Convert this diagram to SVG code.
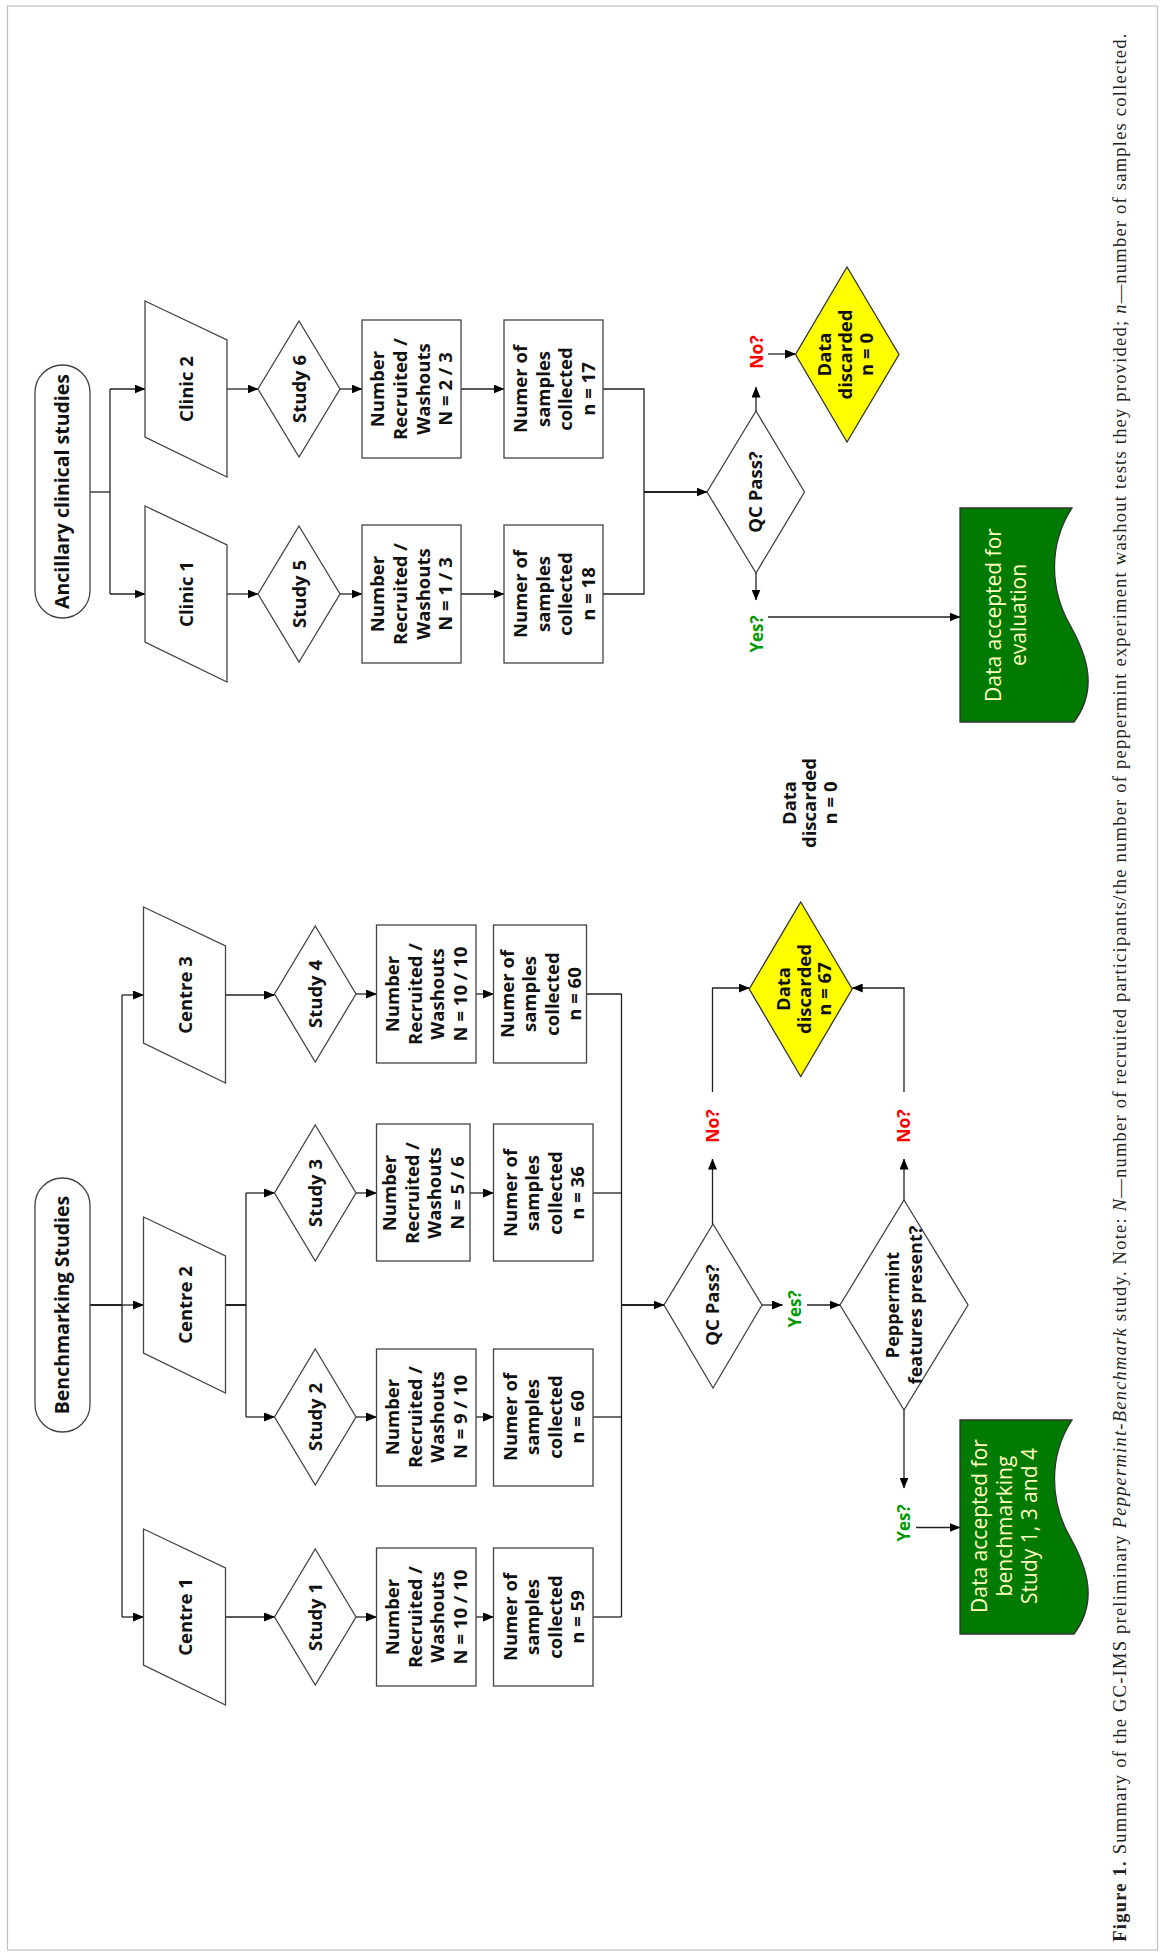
<svg xmlns="http://www.w3.org/2000/svg" width="1163" height="1957" viewBox="0 0 1163 1957">
<style>
.sh{fill:#fff;stroke:#444;stroke-width:1.3}
.yl{fill:#ffff00;stroke:#333;stroke-width:1.3}
.gr{fill:#007a00;stroke:#333;stroke-width:1.3}
.t{font-family:"Open Sans","Liberation Sans",sans-serif;font-weight:700;font-size:18.5px;fill:#111;text-anchor:middle}
.tt{font-size:19.5px}
.gt{font-family:"Open Sans","Liberation Sans",sans-serif;font-weight:400;font-size:21px;fill:#ffffc0;text-anchor:middle}
.no{font-family:"Open Sans","Liberation Sans",sans-serif;font-weight:700;font-size:17.5px;fill:#ff0000;text-anchor:middle}
.yes{font-family:"Open Sans","Liberation Sans",sans-serif;font-weight:700;font-size:17px;fill:#009900;text-anchor:middle}
.cap{font-family:"Liberation Serif","Times New Roman",serif;font-size:18.5px;fill:#222}
#connectors path{fill:none;stroke:#222;stroke-width:1.3}
#connectors path.a{marker-end:url(#ah)}
#connectors path.k{stroke-width:2}
</style>
<defs>
<marker id="ah" markerWidth="11" markerHeight="9" refX="10.5" refY="4.5" orient="auto" markerUnits="userSpaceOnUse"><path d="M0,0 L11,4.5 L0,9 z" fill="#000"/></marker>
<path id="docshape" d="M0,0 H112 C88,37 90,82 110,117 C128,149 138,182 114,214 H0 Z"/>
</defs>
<rect x="0" y="0" width="1163" height="1957" fill="#fff"/>
<rect x="7.5" y="6" width="1150" height="1944" fill="none" stroke="#c0c0c0" stroke-width="1.2"/>

<g id="connectors">
<path d="M90,492 H110"/>
<path d="M110,389 V594"/>
<path class="a" d="M110,389 H145"/>
<path class="a" d="M110,594 H145"/>
<path class="a" d="M227,389 H258"/>
<path class="a" d="M227,594 H258"/>
<path class="a" d="M340,389 H362"/>
<path class="a" d="M340,594 H362"/>
<path class="a" d="M461,389 H504"/>
<path class="a" d="M461,594 H504"/>
<path d="M603,389 H644 V594 H603"/>
<path class="a k" d="M644,492 H707"/>
<path class="a" d="M756,411 V387"/>
<path class="a" d="M756,573 V600"/>
<path class="a" d="M768,354 H795.5"/>
<path class="a" d="M768,617 H960"/>

<path class="k" d="M90,1305 H122"/>
<path d="M122,995 V1617"/>
<path class="a" d="M122,995 H143.5"/>
<path class="a" d="M122,1305 H143.5"/>
<path class="a" d="M122,1617 H143.5"/>
<path class="a" d="M225.5,995 H274.5"/>
<path class="k" d="M225.5,1305 H246"/>
<path d="M246,1193 V1417"/>
<path class="a" d="M246,1193 H274.5"/>
<path class="a" d="M246,1417 H274.5"/>
<path class="a" d="M225.5,1617 H274.5"/>
<path class="a" d="M356,994 H376.5"/>
<path class="a" d="M356,1193 H376.5"/>
<path class="a" d="M356,1417 H376.5"/>
<path class="a" d="M356,1617 H376.5"/>
<path class="a" d="M476,994 H493.5"/>
<path class="a" d="M470,1193 H493.5"/>
<path class="a" d="M476,1417 H493.5"/>
<path class="a" d="M476,1617 H493.5"/>
<path d="M586.5,994 H621.5"/>
<path d="M593,1193 H621.5"/>
<path d="M593,1417 H621.5"/>
<path d="M593,1617 H621.5"/>
<path d="M621.5,994 V1617"/>
<path class="a k" d="M621.5,1305 H664"/>
<path class="a" d="M762,1305 H782.5"/>
<path class="a" d="M807,1305 H840"/>
<path class="a" d="M712.5,1224 V1159"/>
<path class="a" d="M712.5,1092 V988 H749.2"/>
<path class="a" d="M904,1200 V1159"/>
<path class="a" d="M904,1092 V988 H852.2"/>
<path class="a" d="M904,1410 V1488"/>
<path class="a" d="M916,1527.5 H960"/>
</g>

<!-- Ancillary branch -->
<g id="anc-start">
<rect class="sh" x="35" y="365" width="55" height="253" rx="27.5" ry="27.5"/>
<text class="t tt" transform="translate(62.5,491.5) rotate(-90)" y="6.7">Ancillary clinical studies</text>
</g>
<g id="clinic2">
<polygon class="sh" points="145,301 227,340 227,477 145,437"/>
<text class="t" transform="translate(186,389) rotate(-90)" y="6.5">Clinic 2</text>
</g>
<g id="clinic1">
<polygon class="sh" points="145,506 227,545 227,682 145,642"/>
<text class="t" transform="translate(186,594) rotate(-90)" y="6.5">Clinic 1</text>
</g>
<g id="study6">
<polygon class="sh" points="299,321 340,389 299,457 258,389"/>
<text class="t" transform="translate(299,389) rotate(-90)" y="6.5">Study 6</text>
</g>
<g id="study5">
<polygon class="sh" points="299,526 340,594 299,662 258,594"/>
<text class="t" transform="translate(299,594) rotate(-90)" y="6.5">Study 5</text>
</g>
<g id="rec6">
<rect class="sh" x="362" y="320" width="99" height="138"/>
<text class="t" transform="translate(411.5,389) rotate(-90)"><tspan x="0" y="-27.5">Number</tspan><tspan x="0" y="-4.7">Recruited /</tspan><tspan x="0" y="18.1">Washouts</tspan><tspan x="0" y="40.9">N = 2 / 3</tspan></text>
</g>
<g id="rec5">
<rect class="sh" x="362" y="525" width="99" height="138"/>
<text class="t" transform="translate(411.5,594) rotate(-90)"><tspan x="0" y="-27.5">Number</tspan><tspan x="0" y="-4.7">Recruited /</tspan><tspan x="0" y="18.1">Washouts</tspan><tspan x="0" y="40.9">N = 1 / 3</tspan></text>
</g>
<g id="samp6">
<rect class="sh" x="504" y="320" width="99" height="138"/>
<text class="t" transform="translate(553.5,389) rotate(-90)"><tspan x="0" y="-26.5">Numer of</tspan><tspan x="0" y="-4">samples</tspan><tspan x="0" y="18.5">collected</tspan><tspan x="0" y="41">n = 17</tspan></text>
</g>
<g id="samp5">
<rect class="sh" x="504" y="525" width="99" height="138"/>
<text class="t" transform="translate(553.5,594) rotate(-90)"><tspan x="0" y="-26.5">Numer of</tspan><tspan x="0" y="-4">samples</tspan><tspan x="0" y="18.5">collected</tspan><tspan x="0" y="41">n = 18</tspan></text>
</g>
<g id="qc-anc">
<polygon class="sh" points="756,411 804.5,492 756,573 707,492"/>
<text class="t" transform="translate(756,492) rotate(-90)" y="6">QC Pass?</text>
</g>
<g id="disc-anc">
<polygon class="yl" points="847,267 899,354.5 847,442 795.5,354.5"/>
<text class="t" transform="translate(847,354.5) rotate(-90)"><tspan x="0" y="-16">Data</tspan><tspan x="0" y="5">discarded</tspan><tspan x="0" y="25.5">n = 0</tspan></text>
</g>
<g id="no-anc"><text class="no" transform="translate(763,352) rotate(-90)">No?</text></g>
<g id="yes-anc"><text class="yes" transform="translate(763,634) rotate(-90)">Yes?</text></g>
<g id="accept-anc">
<use href="#docshape" class="gr" transform="translate(960,508)"/>
<text class="gt" transform="translate(1001,615) rotate(-90)"><tspan x="0" y="0">Data accepted for</tspan><tspan x="0" y="25">evaluation</tspan></text>
</g>
<g id="disc-float">
<text class="t" transform="translate(816,803) rotate(-90)"><tspan x="0" y="-20">Data</tspan><tspan x="0" y="0">discarded</tspan><tspan x="0" y="21">n = 0</tspan></text>
</g>

<!-- Benchmark branch -->
<g id="bench-start">
<rect class="sh" x="35" y="1178" width="55" height="254" rx="27.5" ry="27.5"/>
<text class="t tt" transform="translate(62.5,1305) rotate(-90)" y="6.7">Benchmarking Studies</text>
</g>
<g id="centre3">
<polygon class="sh" points="143.5,907 225.5,946 225.5,1083 143.5,1043"/>
<text class="t" transform="translate(184.5,995) rotate(-90)" y="7">Centre 3</text>
</g>
<g id="centre2">
<polygon class="sh" points="143.5,1217 225.5,1256 225.5,1393 143.5,1353"/>
<text class="t" transform="translate(184.5,1305) rotate(-90)" y="7">Centre 2</text>
</g>
<g id="centre1">
<polygon class="sh" points="143.5,1529 225.5,1568 225.5,1705 143.5,1665"/>
<text class="t" transform="translate(184.5,1617) rotate(-90)" y="7">Centre 1</text>
</g>
<g id="study4">
<polygon class="sh" points="315.25,926 356,994 315.25,1062 274.5,994"/>
<text class="t" transform="translate(315.25,994) rotate(-90)" y="6.7">Study 4</text>
</g>
<g id="study3">
<polygon class="sh" points="315.25,1125 356,1193 315.25,1261 274.5,1193"/>
<text class="t" transform="translate(315.25,1193) rotate(-90)" y="6.7">Study 3</text>
</g>
<g id="study2">
<polygon class="sh" points="315.25,1349 356,1417 315.25,1485 274.5,1417"/>
<text class="t" transform="translate(315.25,1417) rotate(-90)" y="6.7">Study 2</text>
</g>
<g id="study1">
<polygon class="sh" points="315.25,1549 356,1617 315.25,1685 274.5,1617"/>
<text class="t" transform="translate(315.25,1617) rotate(-90)" y="6.7">Study 1</text>
</g>
<g id="rec4">
<rect class="sh" x="376.5" y="925" width="99.5" height="138"/>
<text class="t" transform="translate(426.25,994) rotate(-90)"><tspan x="0" y="-27.5">Number</tspan><tspan x="0" y="-4.7">Recruited /</tspan><tspan x="0" y="18.1">Washouts</tspan><tspan x="0" y="40.9">N = 10 / 10</tspan></text>
</g>
<g id="rec3">
<rect class="sh" x="376.5" y="1124" width="93.5" height="137"/>
<text class="t" transform="translate(423.25,1193) rotate(-90)"><tspan x="0" y="-27.5">Number</tspan><tspan x="0" y="-4.7">Recruited /</tspan><tspan x="0" y="18.1">Washouts</tspan><tspan x="0" y="40.9">N = 5 / 6</tspan></text>
</g>
<g id="rec2">
<rect class="sh" x="376.5" y="1349" width="99.5" height="137"/>
<text class="t" transform="translate(426.25,1417) rotate(-90)"><tspan x="0" y="-27.5">Number</tspan><tspan x="0" y="-4.7">Recruited /</tspan><tspan x="0" y="18.1">Washouts</tspan><tspan x="0" y="40.9">N = 9 / 10</tspan></text>
</g>
<g id="rec1">
<rect class="sh" x="376.5" y="1548" width="99.5" height="138"/>
<text class="t" transform="translate(426.25,1617) rotate(-90)"><tspan x="0" y="-27.5">Number</tspan><tspan x="0" y="-4.7">Recruited /</tspan><tspan x="0" y="18.1">Washouts</tspan><tspan x="0" y="40.9">N = 10 / 10</tspan></text>
</g>
<g id="samp4">
<rect class="sh" x="493.5" y="925" width="93" height="138"/>
<text class="t" transform="translate(540,994) rotate(-90)"><tspan x="0" y="-26.5">Numer of</tspan><tspan x="0" y="-4">samples</tspan><tspan x="0" y="18.5">collected</tspan><tspan x="0" y="41">n = 60</tspan></text>
</g>
<g id="samp3">
<rect class="sh" x="493.5" y="1124" width="99.5" height="137"/>
<text class="t" transform="translate(543.25,1193) rotate(-90)"><tspan x="0" y="-26.5">Numer of</tspan><tspan x="0" y="-4">samples</tspan><tspan x="0" y="18.5">collected</tspan><tspan x="0" y="41">n = 36</tspan></text>
</g>
<g id="samp2">
<rect class="sh" x="493.5" y="1349" width="99.5" height="137"/>
<text class="t" transform="translate(543.25,1417) rotate(-90)"><tspan x="0" y="-26.5">Numer of</tspan><tspan x="0" y="-4">samples</tspan><tspan x="0" y="18.5">collected</tspan><tspan x="0" y="41">n = 60</tspan></text>
</g>
<g id="samp1">
<rect class="sh" x="493.5" y="1548" width="99.5" height="138"/>
<text class="t" transform="translate(543.25,1617) rotate(-90)"><tspan x="0" y="-26.5">Numer of</tspan><tspan x="0" y="-4">samples</tspan><tspan x="0" y="18.5">collected</tspan><tspan x="0" y="41">n = 59</tspan></text>
</g>
<g id="qc-bench">
<polygon class="sh" points="713,1224 762,1305 713,1388 664,1305"/>
<text class="t" transform="translate(713,1305) rotate(-90)" y="5.5">QC Pass?</text>
</g>
<g id="yes-qc"><text class="yes" transform="translate(801,1309) rotate(-90)">Yes?</text></g>
<g id="peppermint">
<polygon class="sh" points="904,1200 968,1305 904,1410 840,1305"/>
<text class="t" transform="translate(904,1305) rotate(-90)" style="font-size:18px"><tspan x="0" y="-5">Peppermint</tspan><tspan x="0" y="17.5">features present?</tspan></text>
</g>
<g id="no-qc"><text class="no" transform="translate(718.5,1126) rotate(-90)">No?</text></g>
<g id="no-pep"><text class="no" transform="translate(910,1126) rotate(-90)">No?</text></g>
<g id="disc-bench">
<polygon class="yl" points="800.7,902 852.2,989 800.7,1076.5 749.2,989"/>
<text class="t" transform="translate(800.7,989) rotate(-90)"><tspan x="0" y="-10.7">Data</tspan><tspan x="0" y="10.3">discarded</tspan><tspan x="0" y="30.5">n = 67</tspan></text>
</g>
<g id="yes-pep"><text class="yes" transform="translate(910,1523) rotate(-90)">Yes?</text></g>
<g id="accept-bench">
<use href="#docshape" class="gr" transform="translate(960,1420)"/>
<text class="gt" transform="translate(1000,1526) rotate(-90)"><tspan x="0" y="-13.3">Data accepted for</tspan><tspan x="0" y="11.7">benchmarking</tspan><tspan x="0" y="36.7">Study 1, 3 and 4</tspan></text>
</g>

<text class="cap" transform="translate(1126,1941.7) rotate(-90)" textLength="1908" lengthAdjust="spacing"><tspan font-weight="bold">Figure 1.</tspan> Summary of the GC-IMS preliminary <tspan font-style="italic">Peppermint-Benchmark</tspan> study. Note: <tspan font-style="italic">N</tspan>—number of recruited participants/the number of peppermint experiment washout tests they provided; <tspan font-style="italic">n</tspan>—number of samples collected.</text>
</svg>
